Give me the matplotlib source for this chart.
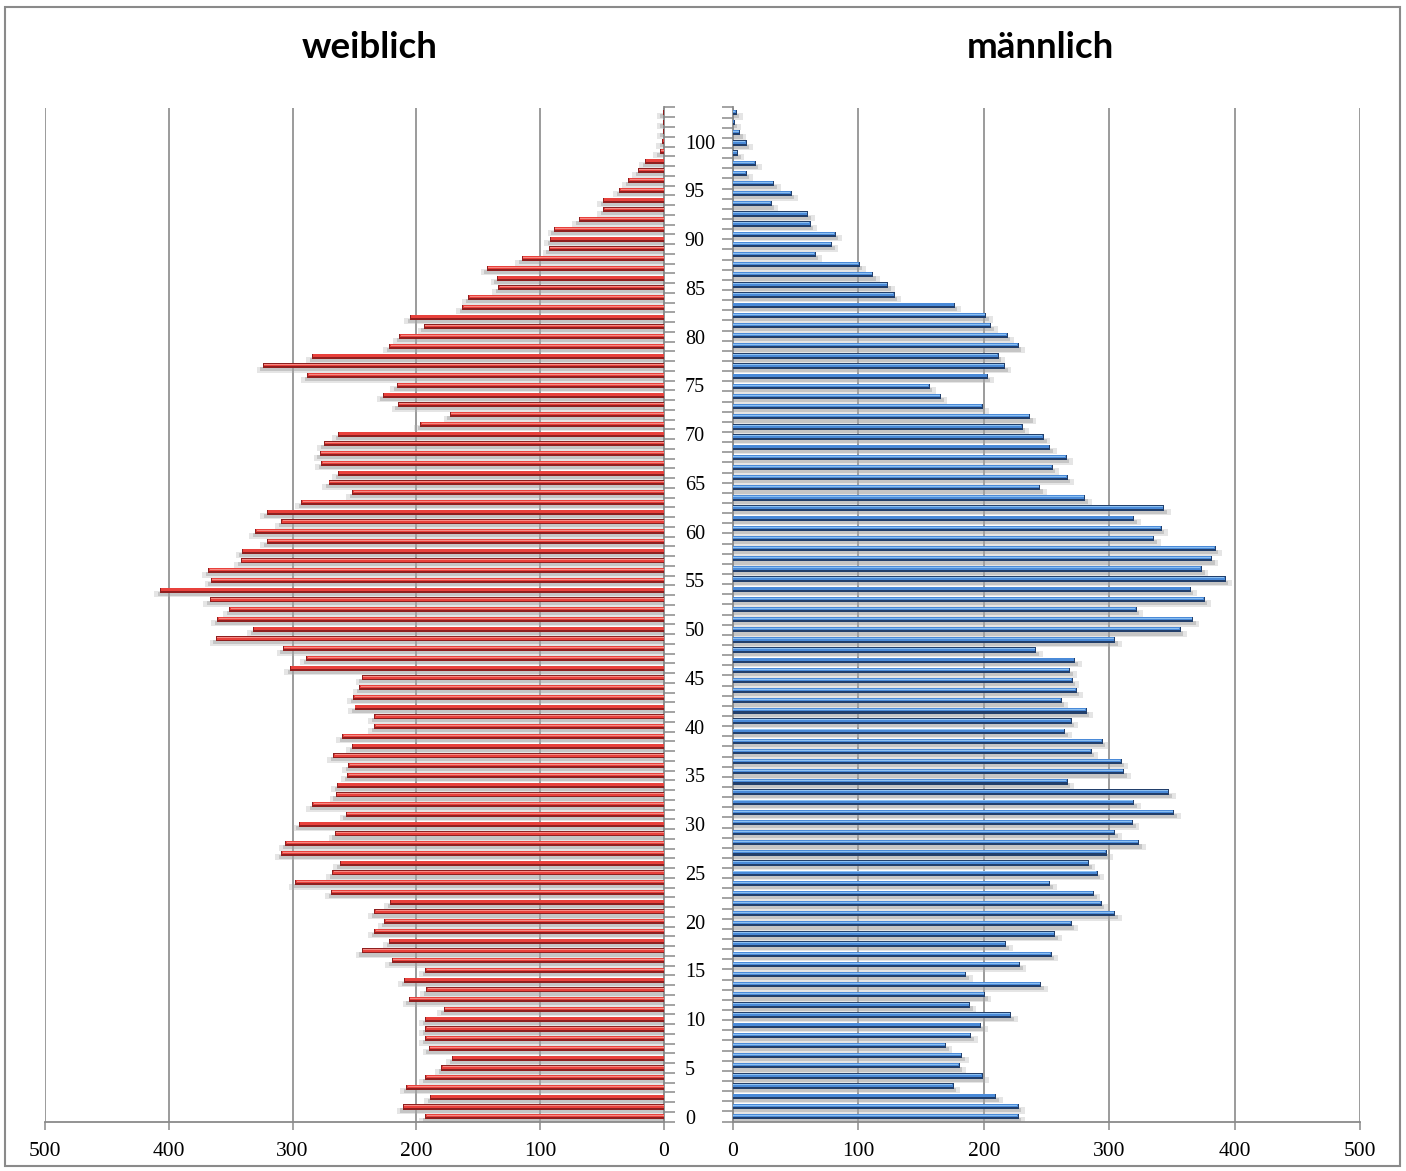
import numpy as np
import matplotlib
matplotlib.use("Agg")
import matplotlib.pyplot as plt
from matplotlib.ticker import FixedLocator, NullFormatter

# ---------------- data ----------------
ages_f = list(range(0, 104))
female = [193, 211, 189, 208, 193, 180, 171, 190, 193, 193,
          193, 178, 206, 192, 210, 193, 220, 244, 222, 234,
          226, 234, 221, 269, 298, 268, 262, 309, 306, 266,
          295, 257, 284, 265, 264, 256, 255, 267, 252, 260,
          234, 234, 250, 251, 246, 244, 302, 289, 308, 362,
          332, 361, 351, 367, 407, 366, 368, 342, 341, 321,
          330, 309, 321, 293, 252, 271, 263, 277, 278, 275,
          263, 197, 173, 215, 227, 216, 288, 324, 284, 222,
          214, 194, 205, 163, 158, 134, 135, 143, 115, 93,
          92, 89, 69, 49, 49, 36, 29, 21, 15, 3.5,
          1.6, 1, 1, 1]

male_idx = list(range(0, 100))
male = [228, 228, 210, 176, 199, 181, 183, 170, 190, 198,
        222, 189, 201, 246, 186, 229, 254, 218, 257, 270,
        305, 294, 288, 253, 291, 284, 298, 324, 305, 319,
        352, 320, 348, 267, 312, 310, 286, 295, 265, 270,
        282, 262, 274, 271, 269, 273, 242, 305, 357, 367,
        322, 376, 365, 393, 374, 382, 385, 336, 342, 320,
        344, 281, 245, 267, 255, 266, 253, 248, 231, 237,
        199, 166, 157, 203, 217, 212, 228, 219, 206, 202,
        177, 129, 124, 112, 101, 66, 79, 82, 62, 60,
        31, 47, 33, 11, 18, 4, 11, 5.6, 1.5, 3]

x_ticks = [0, 100, 200, 300, 400, 500]
age_ticks = list(range(0, 101, 5))
title_f = "weiblich"
title_m = "männlich"

# ---------------- figure ----------------
W, H = 1406, 1171
fig = plt.figure(figsize=(W / 100, H / 100), dpi=100)
fig.patch.set_facecolor("white")

bottom = 1 - 1121.6 / H
top = 1 - 107.5 / H
ax1 = fig.add_axes([45 / W, bottom, (664 - 45) / W, top - bottom])
ax2 = fig.add_axes([733 / W, bottom, (1360 - 733) / W, top - bottom])

grid_c = "#8a8a8a"
spine_c = "#8a8a8a"


def draw_bars(ax, pos, vals, dark, mid, light):
    pos = np.asarray(pos, dtype=float)
    vals = np.asarray(vals, dtype=float)
    # soft shadow
    ax.barh(pos - 0.40, vals + 5, height=0.62, color="#b0b0b0", alpha=0.32,
            linewidth=0, zorder=2)
    ax.barh(pos - 0.36, vals + 2, height=0.42, color="#a0a0a0", alpha=0.45,
            linewidth=0, zorder=2)
    # bevelled bar
    ax.barh(pos, vals, height=0.52, color=dark, linewidth=0, zorder=3)
    ax.barh(pos + 0.09, vals - 0.8, height=0.30, color=mid, linewidth=0, zorder=4)
    ax.barh(pos + 0.12, vals - 1.2, height=0.09, color=light, linewidth=0, zorder=5)


draw_bars(ax1, ages_f, female, "#8f1f1f", "#e8413c", "#f78b85")
draw_bars(ax2, male_idx, male, "#223f6b", "#4a8ad8", "#8cc0f2")

ax1.set_xlim(500, 0)
ax1.set_ylim(-0.5, 103.5)
ax2.set_xlim(0, 500)
ax2.set_ylim(-0.5, 99.5)

for ax in (ax1, ax2):
    ax.set_facecolor("none")
    ax.set_axisbelow(True)
    ax.xaxis.set_major_locator(FixedLocator(x_ticks))
    ax.set_xticklabels([str(t) for t in x_ticks], fontsize=15.5,
                       family="Liberation Serif")
    ax.grid(axis="x", color=grid_c, linewidth=1.2, zorder=0)
    ax.tick_params(axis="x", direction="out", length=6, width=1.1,
                   color=spine_c, pad=9)
    ax.spines["top"].set_visible(False)
    for s in ("left", "right", "bottom"):
        ax.spines[s].set_color(spine_c)
        ax.spines[s].set_linewidth(1.3)

ax1.spines["left"].set_visible(False)
ax2.spines["right"].set_visible(False)

ax1.yaxis.tick_right()
ax1.yaxis.set_major_locator(FixedLocator(age_ticks))
ax1.set_yticklabels([str(a) for a in age_ticks], fontsize=14.5,
                    family="Liberation Serif")
ax1.yaxis.set_minor_locator(FixedLocator(np.arange(-0.5, 104, 1)))
ax1.tick_params(axis="y", which="major", length=0, pad=15)
ax1.tick_params(axis="y", which="minor", direction="out", length=8,
                width=1.1, color=spine_c, right=True, left=False)
for lab in ax1.get_yticklabels():
    lab.set_horizontalalignment("left")

ax2.yaxis.set_major_locator(FixedLocator([]))
ax2.yaxis.set_minor_locator(FixedLocator(np.arange(-0.5, 100, 1)))
ax2.yaxis.set_minor_formatter(NullFormatter())
ax2.tick_params(axis="y", which="minor", direction="out", length=8,
                width=1.1, color=spine_c, left=True, right=False)

# titles
fig.text(370 / W, 1 - 48 / H, title_f, ha="center", va="center",
         fontsize=26.5, fontweight="bold", family="Lato")
fig.text(1040 / W, 1 - 48 / H, title_m, ha="center", va="center",
         fontsize=26.5, fontweight="bold", family="Lato")

# outer frame
frame = plt.Rectangle((5 / W, 5 / H), 1395 / W, 1159 / H, transform=fig.transFigure,
                      fill=False, edgecolor="#8a8a8a", linewidth=1.5)
fig.patches.append(frame)

fig.savefig("out.png", dpi=100, facecolor="white")
